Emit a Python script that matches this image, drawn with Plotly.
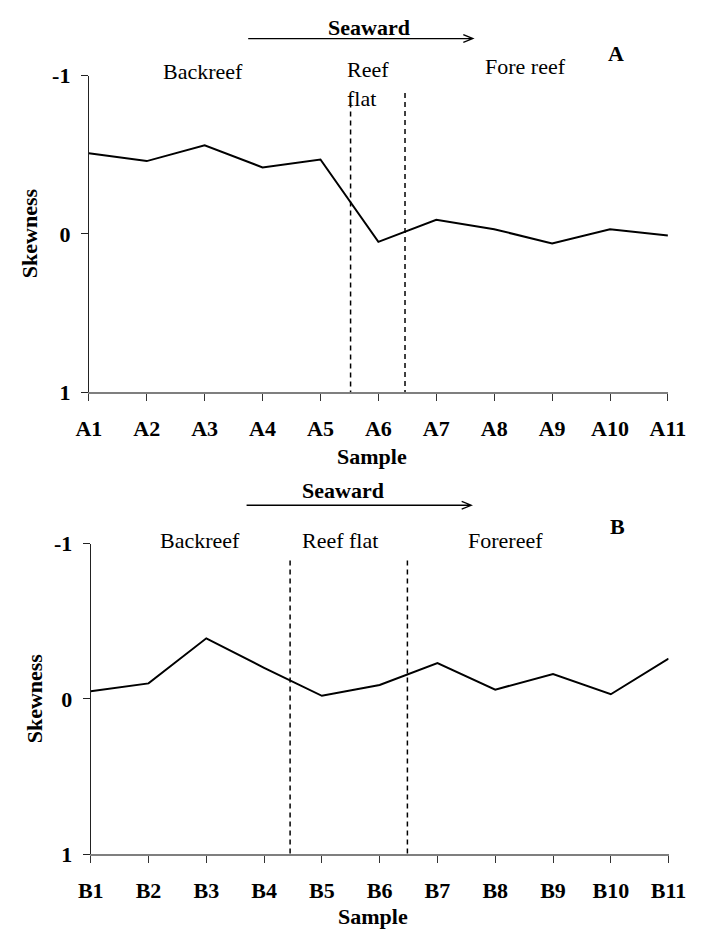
import plotly.graph_objects as go

# ---------------- data ----------------
samples_a = ["A1", "A2", "A3", "A4", "A5", "A6", "A7", "A8", "A9", "A10", "A11"]
skew_a = [-0.51, -0.46, -0.56, -0.42, -0.47, 0.05, -0.09, -0.03, 0.06, -0.03, 0.01]

samples_b = ["B1", "B2", "B3", "B4", "B5", "B6", "B7", "B8", "B9", "B10", "B11"]
skew_b = [-0.05, -0.10, -0.39, -0.20, -0.02, -0.09, -0.23, -0.06, -0.16, -0.03, -0.26]

y_tickvals = [-1, 0, 1]
y_ticktext = ["-1", "0", "1"]

# zone boundaries (category index positions) and their top ends
bounds_a = [(4.52, -0.83), (5.46, -0.89)]
bounds_b = [(3.45, -0.89), (5.48, -0.89)]

zones_a = ["Backreef", "Reef<br>flat", "Fore reef"]
zones_b = ["Backreef", "Reef flat", "Forereef"]

# ---------------- layout helpers ----------------
W, H = 706, 942
FONT = "Liberation Serif"
FS = 22


def px(x):
    return x / W


def py(y):
    return 1 - y / H


fig = go.Figure()

fig.add_trace(go.Scatter(x=samples_a, y=skew_a, mode="lines",
                         line=dict(color="black", width=2),
                         xaxis="x", yaxis="y", showlegend=False))
fig.add_trace(go.Scatter(x=samples_b, y=skew_b, mode="lines",
                         line=dict(color="black", width=2),
                         xaxis="x2", yaxis="y2", showlegend=False))

xcommon = dict(type="category", range=[0, 10], showgrid=False, zeroline=False,
               showline=True, linecolor="#7f7f7f", linewidth=2,
               ticks="outside", ticklen=7, tickwidth=1, tickcolor="#333333",
               tickfont=dict(family=FONT, size=FS, color="black", weight="bold"),
               ticklabelstandoff=8, fixedrange=True)
ycommon = dict(range=[1, -1], tickvals=y_tickvals, ticktext=y_ticktext,
               showgrid=False, zeroline=False, showline=True,
               linecolor="#222222", linewidth=1, ticks="outside", ticklen=7,
               tickwidth=1, tickcolor="#222222",
               tickfont=dict(family=FONT, size=FS, color="black", weight="bold"),
               ticklabelstandoff=6, fixedrange=True)

fig.update_layout(
    width=W, height=H,
    margin=dict(l=0, r=0, t=0, b=0),
    paper_bgcolor="white", plot_bgcolor="white",
    xaxis=dict(xcommon, domain=[px(79.3), px(685.0)], anchor="y"),
    yaxis=dict(ycommon, domain=[py(390.7), py(65.3)], anchor="x"),
    xaxis2=dict(xcommon, domain=[px(81.3), px(685.7)], anchor="y2"),
    yaxis2=dict(ycommon, domain=[py(865.3), py(546.0)], anchor="x2"),
)

shapes = []
for xb, ytop in bounds_a:
    shapes.append(dict(type="line", xref="x", yref="y", x0=xb, x1=xb, y0=ytop, y1=1,
                       line=dict(color="black", width=1.5, dash="5px,4px")))
for xb, ytop in bounds_b:
    shapes.append(dict(type="line", xref="x2", yref="y2", x0=xb, x1=xb, y0=ytop, y1=1,
                       line=dict(color="black", width=1.5, dash="5px,4px")))


def arrow(x0, x1, y):
    path = (f"M {px(x0)} {py(y)} L {px(x1)} {py(y)} "
            f"M {px(x1 - 10)} {py(y - 4)} L {px(x1)} {py(y)} L {px(x1 - 10)} {py(y + 4)}")
    return dict(type="path", xref="paper", yref="paper", path=path,
                line=dict(color="black", width=1.3))


shapes.append(arrow(246, 481, 27.3))
shapes.append(arrow(244.3, 479.3, 506.7))
fig.update_layout(shapes=shapes)


def ann(text, x, y, bold=False, angle=0, xanchor="center", align="center"):
    return dict(text=text, x=px(x), y=py(y), xref="paper", yref="paper",
                xanchor=xanchor, yanchor="middle", showarrow=False,
                textangle=angle, align=align,
                font=dict(family=FONT, size=FS, color="black",
                          weight="bold" if bold else "normal"))


annotations = [
    # panel A
    ann("Seaward", 372.5, 15.5, bold=True),
    ann(zones_a[0], 198.5, 61),
    ann(zones_a[1], 347, 74, xanchor="left", align="left"),
    ann(zones_a[2], 536, 56),
    ann("A", 631, 43, bold=True),
    ann("Skewness", 18, 227, bold=True, angle=-90),
    ann("Sample", 375, 457, bold=True),
    # panel B
    ann("Seaward", 345, 492, bold=True),
    ann(zones_b[0], 196, 542.7),
    ann(zones_b[1], 341.5, 543),
    ann(zones_b[2], 515.5, 542.7),
    ann("B", 632, 529, bold=True),
    ann("Skewness", 22, 705, bold=True, angle=-90),
    ann("Sample", 376.7, 929.3, bold=True),
]
fig.update_layout(annotations=annotations)

fig.write_html("out.html",
               post_script="document.body.style.margin='0';document.body.style.overflow='hidden';")
